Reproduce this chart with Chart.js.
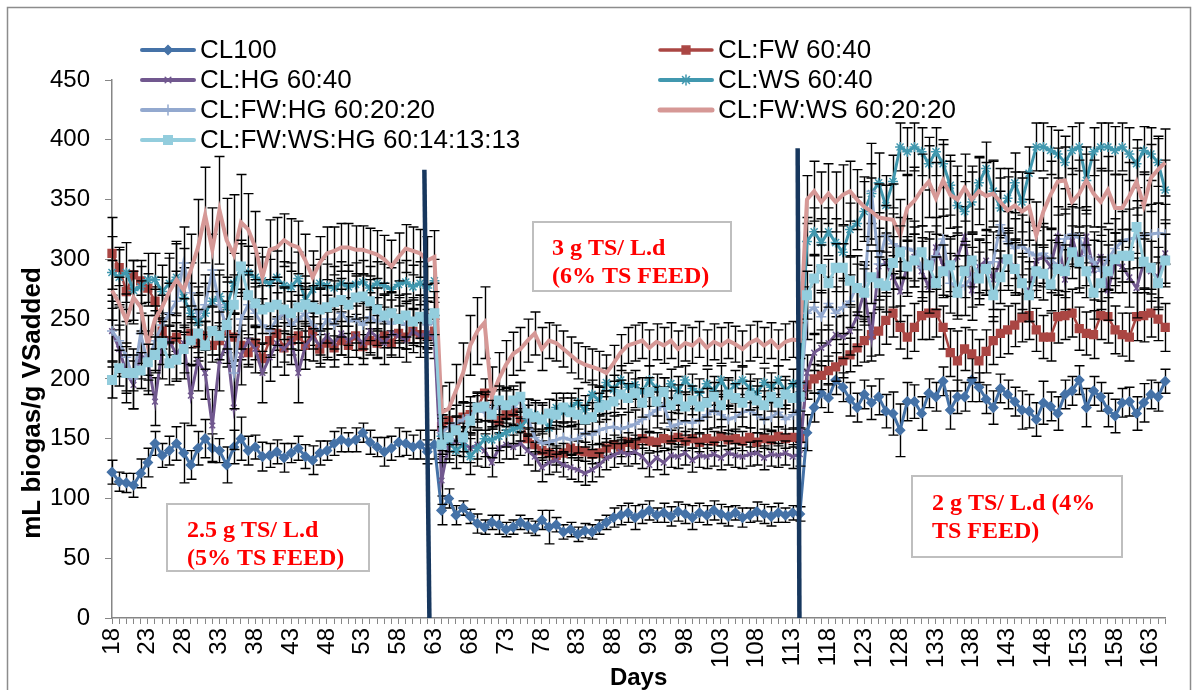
<!DOCTYPE html>
<html>
<head>
<meta charset="utf-8">
<script src="https://cdn.jsdelivr.net/npm/chart.js@4.4.1/dist/chart.umd.min.js"></script>
<style>
  html, body { margin: 0; padding: 0; background: #ffffff; }
  #wrap { width: 1198px; height: 690px; position: relative; }
</style>
</head>
<body>
<div id="wrap"><canvas id="chart" width="1198" height="690"></canvas></div>
<script>
// Days of digestion (one reading per day)
const FIRST_DAY = 18, LAST_DAY = 165;
const days = [];
for (let d = FIRST_DAY; d <= LAST_DAY; d++) days.push(d);

// Days that carry a printed tick label
const labelDays = [18, 23, 28, 33, 38, 43, 48, 53, 58, 63, 68, 73, 78, 83, 88, 93, 98,
  103, 108, 113, 118, 123, 128, 133, 138, 143, 148, 153, 158, 163];

const yTicks = [0, 50, 100, 150, 200, 250, 300, 350, 400, 450];

// Daily biogas yield, mL biogas / g VS added (days 18-63, 64-114, 115-165)
const cl100 = [
  122, 114, 113, 111, 121, 130, 146, 136, 140, 146, 138, 128, 142, 150, 142, 140, 128, 143, 150, 140,
  143, 135, 136, 139, 134, 138, 142, 135, 132, 138, 140, 146, 149, 147, 149, 155, 147, 143, 139, 142,
  147, 146, 143, 145, 139, 145,
  90, 100, 86, 92, 85, 79, 76, 80, 78, 74, 76, 80, 77, 75, 82, 76, 78, 72, 74, 70,
  73, 72, 76, 80, 84, 86, 88, 84, 87, 90, 86, 88, 85, 89, 87, 84, 88, 86, 90, 87,
  85, 88, 84, 86, 89, 87, 85, 88, 86, 88, 87,
  155, 176, 188, 184, 199, 193, 183, 176, 187, 180, 185, 173, 171, 157, 181, 181, 171, 188, 185, 198,
  174, 185, 185, 199, 193, 183, 176, 192, 187, 181, 174, 173, 166, 180, 177, 171, 187, 190, 199, 176,
  190, 185, 174, 169, 180, 181, 171, 180, 187, 185, 198
];
const clFw = [
  305, 293, 273, 287, 282, 276, 265, 240, 232, 235, 225, 238, 230, 236, 228, 232, 240, 235, 228, 222,
  230, 217, 232, 238, 226, 232, 236, 228, 240, 225, 230, 226, 232, 228, 236, 227, 232, 230, 236, 230,
  238, 235, 240, 237, 236, 240,
  160, 165, 158, 168, 170, 176, 188, 168, 165, 170, 172, 165, 150, 145, 140, 138, 136, 138, 142, 140,
  139, 137, 138, 142, 145, 143, 147, 145, 150, 148, 147, 150, 149, 151, 148, 150, 147, 150, 148, 152,
  149, 150, 148, 151, 147, 150, 149, 152, 150, 151, 150,
  195, 200, 203, 207, 210, 215, 220, 226, 232, 237, 240, 249, 255, 243, 235, 243, 253, 255, 255, 243,
  222, 215, 225, 221, 215, 223, 232, 238, 241, 245, 251, 253, 241, 235, 235, 252, 253, 255, 242, 238,
  237, 253, 252, 241, 237, 235, 252, 253, 255, 250, 243
];
const clHg = [
  240, 225, 205, 195, 220, 215, 181, 225, 232, 220, 230, 186, 215, 205, 161, 215, 230, 176, 220, 232,
  225, 205, 218, 230, 225, 232, 205, 228, 235, 228, 236, 230, 238, 232, 236, 230, 240, 235, 230, 238,
  236, 232, 240, 236, 238, 235,
  115, 145, 148, 147, 142, 145, 140, 130, 142, 145, 143, 146, 140, 135, 126, 130, 132, 128, 126, 124,
  121, 124, 128, 134, 136, 139, 137, 139, 135, 128, 134, 130, 136, 135, 138, 132, 136, 135, 137, 134,
  138, 136, 135, 137, 138, 134, 137, 136, 138, 135, 137,
  205, 222, 226, 230, 237, 235, 240, 252, 273, 235, 294, 297, 285, 273, 294, 302, 290, 277, 310, 295,
  294, 302, 319, 274, 294, 299, 283, 299, 299, 294, 280, 273, 299, 302, 294, 319, 283, 319, 297, 319,
  291, 302, 274, 297, 294, 285, 276, 297, 290, 285, 305
];
const clWs = [
  289, 285, 289, 274, 277, 283, 283, 273, 280, 285, 268, 255, 247, 255, 265, 269, 260, 280, 291, 289,
  285, 282, 280, 285, 278, 277, 284, 266, 275, 280, 278, 276, 280, 277, 279, 281, 276, 280, 278, 275,
  279, 281, 277, 280, 276, 282,
  152, 148, 140, 145, 135, 142, 150, 149, 152, 155, 158, 160, 166, 170, 168, 159, 176, 172, 176, 180,
  174, 187, 182, 197, 191, 199, 193, 195, 189, 199, 192, 189, 196, 190, 199, 192, 188, 196, 190, 199,
  189, 195, 199, 192, 188, 197, 193, 199, 190, 196, 196,
  315, 323, 314, 323, 314, 306, 325, 330, 340, 355, 364, 345, 365, 394, 390, 394, 390, 380, 390, 380,
  362, 345, 340, 348, 364, 376, 357, 343, 351, 364, 348, 372, 394, 394, 391, 388, 381, 391, 394, 366,
  390, 394, 394, 391, 394, 388, 380, 391, 388, 381, 358
];
const clFwHg = [
  240, 232, 218, 200, 238, 212, 232, 245, 255, 265, 297, 272, 252, 262, 291, 262, 243, 205, 250, 262,
  255, 245, 240, 250, 255, 245, 250, 255, 245, 240, 250, 245, 255, 248, 250, 245, 252, 248, 250, 246,
  250, 245, 248, 250, 245, 248,
  155, 160, 163, 166, 170, 174, 172, 175, 176, 178, 176, 182, 168, 151, 146, 147, 149, 151, 149, 150,
  155, 153, 157, 159, 160, 158, 160, 162, 166, 170, 174, 178, 160, 162, 165, 163, 166, 170, 174, 170,
  166, 168, 172, 174, 170, 166, 168, 172, 166, 170, 174,
  255, 260, 252, 263, 255, 260, 265, 278, 270, 357, 296, 320, 313, 310, 309, 307, 293, 298, 303, 317,
  280, 278, 278, 285, 292, 295, 298, 329, 315, 309, 312, 306, 303, 305, 300, 295, 317, 321, 318, 303,
  298, 290, 300, 309, 315, 317, 318, 320, 321, 322, 321
];
const clFwWs = [
  274, 263, 249, 268, 260, 228, 250, 260, 273, 283, 274, 291, 310, 337, 308, 341, 316, 304, 331, 325,
  310, 285, 308, 310, 316, 312, 310, 299, 285, 297, 305, 307, 310, 310, 308, 308, 306, 304, 300, 294,
  302, 309, 307, 305, 299, 302,
  172, 175, 190, 205, 228, 240, 247, 185, 200, 212, 221, 225, 232, 238, 225, 232, 230, 225, 220, 215,
  212, 210, 208, 205, 213, 222, 228, 230, 232, 226, 231, 228, 232, 225, 230, 228, 233, 226, 231, 228,
  232, 229, 225, 230, 233, 228, 232, 226, 231, 233, 232,
  350, 357, 348, 355, 348, 354, 357, 350, 344, 340, 335, 334, 333, 320, 343, 349, 358, 365, 351, 366,
  354, 350, 360, 350, 357, 353, 355, 348, 341, 345, 340, 344, 320, 340, 354, 365, 366, 348, 355, 366,
  355, 348, 358, 343, 343, 353, 365, 345, 368, 375, 381
];
const clFwWsHg = [
  199, 209, 205, 205, 207, 214, 220, 230, 213, 216, 225, 232, 238, 228, 240, 236, 245, 262, 294, 270,
  263, 258, 260, 262, 258, 255, 260, 262, 260, 258, 260, 264, 266, 262, 268, 269, 265, 258, 253, 255,
  250, 253, 248, 252, 250, 255,
  145, 151, 157, 151, 165, 176, 177, 170, 182, 178, 182, 185, 171, 168, 166, 171, 170, 176, 172, 170,
  166, 168, 176, 178, 181, 187, 184, 188, 180, 189, 181, 189, 178, 183, 177, 182, 177, 180, 185, 178,
  187, 184, 180, 186, 182, 178, 185, 180, 187, 184, 185,
  270, 284, 292, 280, 293, 293, 282, 276, 272, 285, 280, 278, 297, 306, 294, 299, 306, 295, 280, 290,
  295, 272, 290, 299, 284, 292, 270, 285, 300, 292, 280, 270, 290, 288, 279, 292, 290, 306, 298, 290,
  272, 280, 290, 300, 303, 303, 327, 298, 293, 280, 299
];

// Standard deviations (half-length of each error bar)
const errCl100 = [
  10, 8, 8, 10, 12, 12, 10, 10, 12, 14, 25, 12, 14, 16, 12, 10, 15, 14, 18, 12,
  10, 12, 10, 10, 12, 8, 10, 10, 12, 10, 8, 10, 10, 8, 10, 8, 10, 8, 12, 10,
  12, 10, 10, 12, 10, 12,
  12, 8, 8, 6, 6, 8, 6, 6, 8, 6, 6, 6, 6, 6, 8, 14, 6, 6, 6, 6,
  6, 6, 6, 6, 8, 8, 8, 10, 8, 8, 6, 8, 8, 8, 8, 10, 8, 8, 8, 8,
  8, 6, 8, 6, 8, 8, 8, 8, 6, 6, 6,
  15, 12, 12, 12, 12, 12, 14, 12, 12, 14, 15, 14, 18, 22, 16, 14, 14, 12, 12, 12,
  16, 14, 12, 18, 12, 12, 14, 12, 12, 12, 16, 14, 14, 18, 12, 14, 12, 12, 12, 16,
  12, 12, 14, 14, 12, 12, 14, 16, 12, 12, 10
];
const errClFw = [
  30, 15, 15, 12, 12, 12, 12, 15, 12, 12, 12, 12, 15, 12, 14, 12, 18, 20, 12, 12,
  14, 12, 12, 14, 12, 12, 12, 12, 12, 12, 12, 10, 12, 10, 12, 10, 10, 12, 10, 10,
  12, 10, 10, 10, 10, 10,
  10, 10, 10, 12, 10, 10, 12, 10, 10, 10, 10, 10, 8, 8, 8, 8, 8, 8, 8, 8,
  8, 8, 8, 8, 8, 8, 8, 8, 8, 8, 8, 8, 8, 8, 8, 8, 8, 8, 8, 8,
  8, 8, 8, 8, 8, 8, 8, 8, 8, 8, 8,
  12, 12, 12, 12, 12, 14, 14, 15, 18, 18, 20, 20, 20, 18, 18, 20, 20, 22, 20, 18,
  20, 25, 18, 20, 18, 18, 20, 20, 20, 18, 20, 20, 18, 18, 20, 22, 20, 20, 18, 18,
  20, 20, 22, 20, 18, 20, 20, 22, 20, 18, 20
];
const errClHg = [
  25, 20, 25, 20, 20, 25, 20, 25, 22, 20, 30, 25, 25, 22, 30, 25, 20, 35, 25, 20,
  20, 25, 20, 20, 22, 20, 25, 20, 20, 18, 20, 20, 18, 20, 18, 18, 20, 18, 18, 20,
  18, 18, 18, 18, 16, 18,
  20, 15, 12, 12, 12, 12, 14, 12, 12, 12, 10, 10, 12, 12, 12, 10, 10, 10, 10, 10,
  10, 10, 10, 10, 10, 10, 10, 10, 10, 10, 10, 10, 10, 10, 10, 10, 10, 10, 10, 10,
  10, 10, 10, 10, 10, 10, 10, 10, 10, 10, 10,
  15, 15, 15, 15, 15, 18, 20, 25, 25, 20, 25, 25, 25, 25, 25, 25, 25, 22, 25, 25,
  25, 25, 25, 25, 22, 25, 25, 25, 25, 22, 25, 25, 25, 25, 22, 25, 25, 25, 25, 22,
  25, 25, 25, 25, 22, 25, 25, 25, 25, 25, 25
];
const errClWs = [
  30, 25, 25, 25, 22, 22, 22, 22, 25, 30, 25, 25, 25, 25, 22, 22, 25, 25, 22, 22,
  20, 20, 20, 22, 20, 20, 22, 20, 20, 20, 18, 18, 18, 18, 18, 18, 18, 18, 18, 18,
  18, 18, 18, 18, 18, 18,
  15, 15, 15, 15, 15, 15, 15, 15, 12, 12, 12, 12, 12, 12, 12, 14, 12, 12, 12, 12,
  12, 12, 12, 12, 12, 12, 12, 12, 12, 12, 12, 12, 12, 12, 12, 12, 12, 12, 12, 12,
  12, 12, 12, 12, 12, 12, 12, 12, 12, 12, 12,
  20, 20, 20, 20, 20, 22, 22, 22, 25, 25, 25, 25, 22, 20, 20, 20, 20, 22, 20, 20,
  25, 25, 25, 25, 22, 22, 25, 25, 25, 25, 25, 22, 20, 20, 20, 20, 22, 20, 20, 22,
  20, 20, 20, 20, 20, 22, 20, 20, 22, 20, 25
];
const errClFwHg = [
  30, 30, 30, 25, 25, 25, 25, 25, 25, 25, 30, 25, 25, 25, 30, 25, 30, 30, 25, 25,
  22, 22, 22, 22, 22, 20, 20, 20, 20, 20, 20, 20, 20, 20, 20, 20, 20, 20, 20, 20,
  20, 20, 20, 20, 20, 20,
  15, 15, 15, 15, 15, 15, 15, 15, 15, 15, 15, 15, 15, 12, 12, 12, 12, 12, 12, 12,
  12, 12, 12, 12, 12, 12, 12, 12, 15, 15, 15, 15, 12, 12, 12, 12, 12, 12, 15, 15,
  12, 12, 12, 15, 15, 12, 12, 12, 12, 12, 15,
  22, 22, 22, 22, 22, 22, 22, 25, 25, 40, 30, 25, 25, 25, 25, 25, 25, 25, 25, 25,
  25, 25, 25, 25, 25, 25, 25, 28, 25, 25, 25, 25, 25, 25, 25, 25, 25, 25, 25, 25,
  25, 25, 25, 25, 25, 25, 25, 25, 25, 25, 25
];
const errClFwWs = [
  25, 22, 22, 22, 22, 25, 25, 25, 28, 30, 35, 30, 40, 40, 35, 45, 35, 50, 40, 30,
  30, 25, 25, 25, 22, 22, 22, 22, 22, 22, 22, 20, 20, 20, 20, 20, 20, 20, 20, 22,
  20, 20, 20, 20, 20, 22,
  22, 22, 22, 25, 25, 28, 30, 25, 22, 20, 18, 18, 18, 18, 18, 15, 15, 15, 15, 15,
  15, 15, 15, 15, 15, 15, 15, 15, 15, 15, 15, 15, 15, 15, 15, 15, 15, 15, 15, 15,
  15, 15, 15, 15, 15, 15, 15, 15, 15, 15, 15,
  20, 25, 25, 25, 25, 25, 25, 25, 25, 28, 28, 28, 30, 30, 28, 28, 30, 30, 30, 30,
  28, 28, 28, 28, 28, 28, 28, 28, 28, 28, 28, 28, 28, 28, 28, 28, 28, 28, 28, 28,
  28, 28, 28, 28, 28, 28, 28, 28, 28, 28, 28
];
const errClFwWsHg = [
  15, 15, 15, 15, 15, 15, 15, 18, 18, 18, 20, 20, 20, 20, 20, 20, 20, 25, 22, 20,
  20, 20, 18, 18, 18, 18, 18, 18, 18, 18, 18, 18, 18, 18, 18, 18, 18, 18, 18, 18,
  18, 18, 18, 18, 18, 18,
  15, 12, 12, 12, 12, 12, 12, 12, 12, 12, 12, 12, 12, 12, 12, 12, 12, 12, 12, 12,
  12, 12, 12, 12, 12, 12, 12, 12, 12, 12, 12, 12, 12, 12, 12, 12, 12, 12, 12, 12,
  12, 12, 12, 12, 12, 12, 12, 12, 12, 12, 12,
  20, 20, 20, 20, 20, 20, 20, 20, 20, 22, 22, 22, 22, 22, 22, 22, 22, 22, 22, 22,
  22, 22, 22, 22, 22, 22, 22, 22, 22, 22, 22, 22, 22, 22, 22, 22, 22, 22, 22, 22,
  22, 22, 22, 22, 22, 22, 22, 22, 22, 22, 22
];

// Series definitions: name, values, deviations, look
const series = [
  { name: 'CL100',                 values: cl100,     errors: errCl100,     color: '#4572A7', marker: 'rectRot',  radius: 4.5, width: 3 },
  { name: 'CL:FW 60:40',           values: clFw,      errors: errClFw,      color: '#AA4643', marker: 'rect',     radius: 5.5, width: 2.5 },
  { name: 'CL:HG 60:40',           values: clHg,      errors: errClHg,      color: '#71588F', marker: 'crossRot', radius: 4,   width: 3 },
  { name: 'CL:WS 60:40',           values: clWs,      errors: errClWs,      color: '#4198AF', marker: 'star',     radius: 5,   width: 3 },
  { name: 'CL:FW:HG 60:20:20',     values: clFwHg,    errors: errClFwHg,    color: '#93A9CF', marker: 'cross',    radius: 5,   width: 3 },
  { name: 'CL:FW:WS 60:20:20',     values: clFwWs,    errors: errClFwWs,    color: '#D69896', marker: false,      radius: 0,   width: 4 },
  { name: 'CL:FW:WS:HG 60:14:13:13', values: clFwWsHg, errors: errClFwWsHg, color: '#93CDDD', marker: 'rect',     radius: 6,   width: 3 }
];

// Legend grid (column, row) for each series
const legendSlots = [[0, 0], [1, 0], [0, 1], [1, 1], [0, 2], [1, 2], [0, 3]];

// Feed-rate phase markers, in (day, mL/g VS) units
const phaseLines = [
  { from: [61.6, 375], to: [62.3, 0] },
  { from: [113.7, 393], to: [113.95, 0] }
];

// Feed-rate captions
const phaseNotes = [
  { lines: ['2.5 g TS/ L.d', '(5% TS FEED)'], box: [167, 504, 202, 67], text: [187, 537] },
  { lines: ['3 g TS/ L.d', '(6% TS FEED)'], box: [533, 222, 198, 69], text: [552, 255] },
  { lines: ['2 g TS/ L.d (4%', 'TS FEED)'], box: [912, 476, 210, 81], text: [932, 510] }
];

const SANS = "'Liberation Sans', Arial, sans-serif";
const SERIF = "'Liberation Serif', 'Times New Roman', serif";
const AXIS_GREY = '#868686';
const Y_TITLE = 'mL biogas/g VSadded';

// Error bars drawn just beneath each series line
const errorBarPlugin = {
  id: 'errorBars',
  beforeDatasetDraw(chart, args) {
    const ds = chart.data.datasets[args.index];
    const yScale = chart.scales.y;
    const ctx = chart.ctx;
    const area = chart.chartArea;
    ctx.save();
    ctx.beginPath();
    ctx.rect(area.left - 6, area.top - 40, area.right - area.left + 12, area.bottom - area.top + 40);
    ctx.clip();
    ctx.strokeStyle = '#000000';
    ctx.lineWidth = 1.4;
    args.meta.data.forEach((pt, i) => {
      const v = ds.data[i], e = ds.errors[i];
      if (v == null || !e) return;
      const x = Math.round(pt.x) + 0.5;
      const yTop = yScale.getPixelForValue(v + e);
      const yBot = yScale.getPixelForValue(Math.max(0, v - e));
      ctx.beginPath();
      ctx.moveTo(x, yTop); ctx.lineTo(x, yBot);
      ctx.moveTo(x - 5, yTop); ctx.lineTo(x + 5, yTop);
      ctx.moveTo(x - 5, yBot); ctx.lineTo(x + 5, yBot);
      ctx.stroke();
    });
    ctx.restore();
  }
};

// Phase lines, captions, legend, axis title and outer frame
const decorPlugin = {
  id: 'decor',
  afterDraw(chart) {
    const ctx = chart.ctx;
    const xs = chart.scales.x, ys = chart.scales.y;
    const dayPx = d => xs.getPixelForValue(d - FIRST_DAY);

    ctx.save();
    // phase separators
    ctx.strokeStyle = '#17375E';
    ctx.lineWidth = 4.5;
    ctx.lineCap = 'butt';
    phaseLines.forEach(l => {
      ctx.beginPath();
      ctx.moveTo(dayPx(l.from[0]), ys.getPixelForValue(l.from[1]));
      ctx.lineTo(dayPx(l.to[0]), ys.getPixelForValue(l.to[1]));
      ctx.stroke();
    });

    // caption boxes
    phaseNotes.forEach(n => {
      const [bx, by, bw, bh] = n.box;
      ctx.fillStyle = '#ffffff';
      ctx.fillRect(bx, by, bw, bh);
      ctx.strokeStyle = '#BFBFBF';
      ctx.lineWidth = 2;
      ctx.strokeRect(bx, by, bw, bh);
      ctx.fillStyle = '#FF0000';
      ctx.font = 'bold 24px ' + SERIF;
      ctx.textAlign = 'left';
      ctx.textBaseline = 'alphabetic';
      n.lines.forEach((t, k) => ctx.fillText(t, n.text[0], n.text[1] + k * 28));
    });

    // legend
    const colX = [142, 660];
    const rowY = [50, 80, 110, 140];
    series.forEach((s, i) => {
      const [c, r] = legendSlots[i];
      const x0 = colX[c], y0 = rowY[r];
      ctx.strokeStyle = s.color;
      ctx.fillStyle = s.color;
      ctx.lineWidth = s.width + 1;
      ctx.lineCap = 'round';
      ctx.beginPath();
      ctx.moveTo(x0, y0); ctx.lineTo(x0 + 52, y0);
      ctx.stroke();
      if (s.marker) {
        ctx.lineWidth = 1.5;
        Chart.helpers.drawPoint(ctx, { pointStyle: s.marker, radius: s.radius, rotation: 0, borderWidth: 1.5 }, x0 + 26, y0);
      }
      ctx.fillStyle = '#000000';
      ctx.font = '26px ' + SANS;
      ctx.textAlign = 'left';
      ctx.textBaseline = 'middle';
      ctx.fillText(s.name, x0 + 58, y0 + 1);
    });

    // value axis title
    ctx.save();
    ctx.translate(33, 403);
    ctx.rotate(-Math.PI / 2);
    ctx.fillStyle = '#000000';
    ctx.font = 'bold 26px ' + SANS;
    ctx.textAlign = 'center';
    ctx.textBaseline = 'middle';
    ctx.fillText(Y_TITLE, 0, 0);
    ctx.restore();

    // outer frame
    ctx.strokeStyle = '#8C8C8C';
    ctx.lineWidth = 1.5;
    ctx.strokeRect(7.5, 7.5, 1183, 700);
    ctx.restore();
  }
};

const ORDER_TOP = series.length - 1;

new Chart(document.getElementById('chart'), {
  type: 'line',
  data: {
    labels: days,
    datasets: series.map((s, i) => ({
      label: s.name,
      data: s.values,
      errors: s.errors,
      order: ORDER_TOP - i,
      borderColor: s.color,
      backgroundColor: s.color,
      borderWidth: s.width,
      tension: 0,
      pointStyle: s.marker || 'circle',
      pointRadius: s.radius,
      pointHoverRadius: s.radius,
      pointBorderWidth: 1.5,
      pointBorderColor: s.color,
      pointBackgroundColor: s.color
    }))
  },
  options: {
    responsive: false,
    animation: false,
    devicePixelRatio: 1,
    layout: { padding: { left: 0, right: 18, top: 80, bottom: 0 } },
    plugins: { legend: { display: false }, tooltip: { enabled: false } },
    scales: {
      x: {
        type: 'category',
        offset: false,
        grid: { display: true, drawOnChartArea: false, drawTicks: true, tickLength: 6, color: AXIS_GREY, lineWidth: 1 },
        border: { display: true, color: AXIS_GREY, width: 1.5 },
        ticks: {
          autoSkip: false,
          minRotation: 90,
          maxRotation: 90,
          padding: 4,
          color: '#000000',
          font: { family: SANS, size: 24 },
          callback: (val, idx) => labelDays.includes(days[idx]) ? String(days[idx]) : ''
        },
        title: { display: true, text: 'Days', color: '#000000', font: { family: SANS, size: 24, weight: 'bold', lineHeight: 1 }, padding: { top: 0, bottom: 0 } },
        afterFit: scale => { scale.height = 72; }
      },
      y: {
        min: 0,
        max: 450,
        afterBuildTicks: scale => { scale.ticks = yTicks.map(v => ({ value: v })); },
        grid: { display: true, drawOnChartArea: false, drawTicks: true, tickLength: 7, color: AXIS_GREY, lineWidth: 1 },
        border: { display: true, color: AXIS_GREY, width: 1.5 },
        ticks: { padding: 15, color: '#000000', font: { family: SANS, size: 24 } },
        title: { display: false },
        afterFit: scale => { scale.width = 112; }
      }
    }
  },
  plugins: [errorBarPlugin, decorPlugin]
});
</script>
</body>
</html>
